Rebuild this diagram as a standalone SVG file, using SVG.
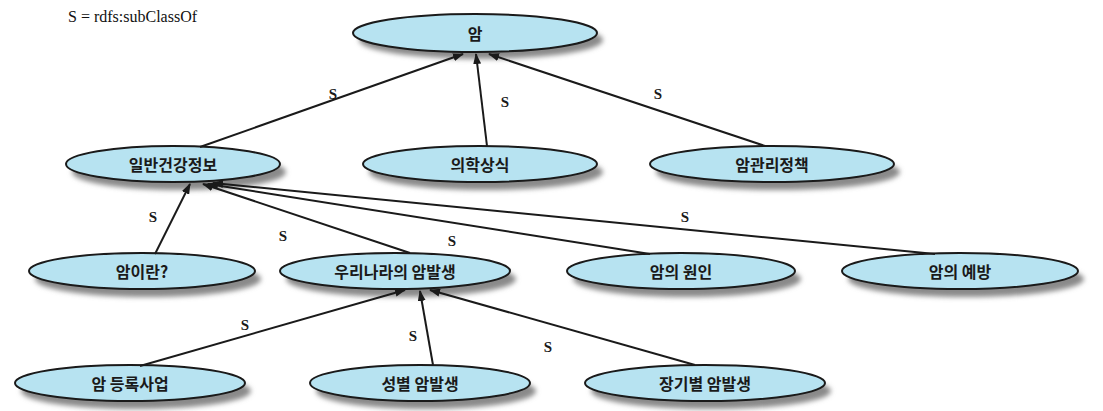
<svg xmlns="http://www.w3.org/2000/svg" width="1103" height="411" viewBox="0 0 1103 411">
<style>
.n ellipse.b{fill:#b7e3f1;stroke:#1a1a1a;stroke-width:2}
.n ellipse.s{fill:#8a8a8a;filter:url(#blur)}
.n text{font-family:"Noto Sans CJK KR",sans-serif;font-weight:bold;font-size:16px;fill:#1a1a1a;text-anchor:middle;dominant-baseline:central}
.e line{stroke:#1a1a1a;stroke-width:2;marker-end:url(#arr)}
.lbl{font-family:"Liberation Serif",serif;font-weight:bold;font-size:15px;fill:#1a1a1a;text-anchor:middle}
.legend{font-family:"Liberation Serif",serif;font-size:16px;fill:#111}
</style>
<defs>
<filter id="blur" x="-20%" y="-50%" width="140%" height="200%"><feGaussianBlur stdDeviation="2.5"/></filter>
<marker id="arr" markerWidth="11" markerHeight="8" refX="10" refY="4" orient="auto" markerUnits="userSpaceOnUse"><path d="M0,0 L11,4 L0,8 Z" fill="#1a1a1a"/></marker>
</defs>
<rect width="1103" height="411" fill="#ffffff"/>
<text class="legend" x="68" y="22">S = rdfs:subClassOf</text>
<g class="n" id="n_am"><ellipse class="s" cx="481" cy="40" rx="122" ry="19"/><ellipse class="b" cx="475" cy="33" rx="122" ry="19"/><text x="475" y="33">암</text></g>
<g class="n" id="n_general"><ellipse class="s" cx="179" cy="172" rx="107" ry="18"/><ellipse class="b" cx="173" cy="164" rx="107" ry="18"/><text x="173" y="164">일반건강정보</text></g>
<g class="n" id="n_medical"><ellipse class="s" cx="486" cy="172" rx="117" ry="18"/><ellipse class="b" cx="480" cy="164" rx="117" ry="18"/><text x="480" y="164">의학상식</text></g>
<g class="n" id="n_policy"><ellipse class="s" cx="778" cy="172" rx="122" ry="18"/><ellipse class="b" cx="772" cy="164" rx="122" ry="18"/><text x="772" y="164">암관리정책</text></g>
<g class="n" id="n_what"><ellipse class="s" cx="148" cy="279" rx="113" ry="18"/><ellipse class="b" cx="142" cy="271" rx="113" ry="18"/><text x="142" y="271">암이란?</text></g>
<g class="n" id="n_korea"><ellipse class="s" cx="401" cy="279" rx="115" ry="18"/><ellipse class="b" cx="395" cy="271" rx="115" ry="18"/><text x="395" y="271">우리나라의 암발생</text></g>
<g class="n" id="n_cause"><ellipse class="s" cx="687" cy="279" rx="114" ry="18"/><ellipse class="b" cx="681" cy="271" rx="114" ry="18"/><text x="681" y="271">암의 원인</text></g>
<g class="n" id="n_prevent"><ellipse class="s" cx="966" cy="279" rx="118" ry="18"/><ellipse class="b" cx="960" cy="271" rx="118" ry="18"/><text x="960" y="271">암의 예방</text></g>
<g class="n" id="n_register"><ellipse class="s" cx="136" cy="391" rx="115" ry="18"/><ellipse class="b" cx="130" cy="383" rx="115" ry="18"/><text x="130" y="383">암 등록사업</text></g>
<g class="n" id="n_sex"><ellipse class="s" cx="426" cy="391" rx="110" ry="18"/><ellipse class="b" cx="420" cy="383" rx="110" ry="18"/><text x="420" y="383">성별 암발생</text></g>
<g class="n" id="n_organ"><ellipse class="s" cx="711" cy="391" rx="120" ry="18"/><ellipse class="b" cx="705" cy="383" rx="120" ry="18"/><text x="705" y="383">장기별 암발생</text></g>
<g class="e" id="edges">
<line x1="200" y1="147" x2="463" y2="54"/>
<line x1="487" y1="146" x2="476" y2="54"/>
<line x1="765" y1="146" x2="489" y2="54"/>
<line x1="155" y1="254" x2="190" y2="184"/>
<line x1="410" y1="253" x2="203" y2="184"/>
<line x1="650" y1="254" x2="208" y2="184"/>
<line x1="935" y1="254" x2="213" y2="183"/>
<line x1="140" y1="366" x2="405" y2="290"/>
<line x1="433" y1="365" x2="420" y2="291"/>
<line x1="695" y1="365" x2="430" y2="290"/>
<text class="lbl" x="333" y="99">S</text>
<text class="lbl" x="505" y="107">S</text>
<text class="lbl" x="658" y="99">S</text>
<text class="lbl" x="153" y="222">S</text>
<text class="lbl" x="283" y="241">S</text>
<text class="lbl" x="452" y="246">S</text>
<text class="lbl" x="685" y="222">S</text>
<text class="lbl" x="245" y="330">S</text>
<text class="lbl" x="413" y="341">S</text>
<text class="lbl" x="548" y="352">S</text>
</g>
</svg>
